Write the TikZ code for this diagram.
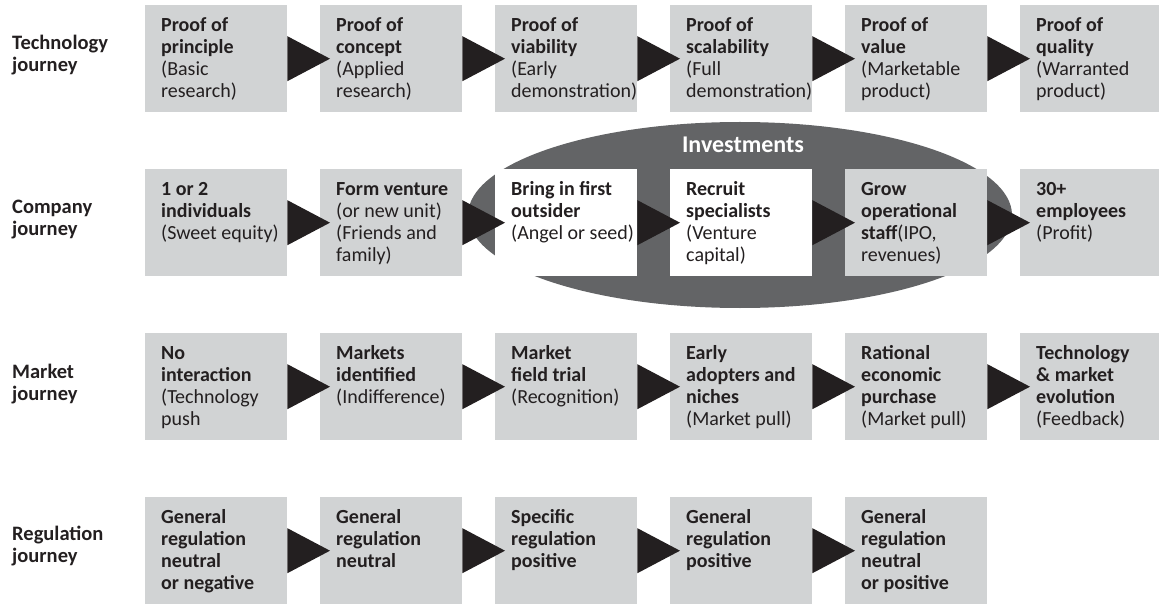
\documentclass[tikz,border=0pt]{standalone}
\usepackage{fontspec}
\setmainfont{Carlito}
\usetikzlibrary{calc,shapes.geometric}
\definecolor{boxgray}{HTML}{D1D3D4}
\definecolor{ellgray}{HTML}{636466}
\definecolor{ink}{HTML}{231F20}
\newcommand\bxt[1]{\parbox[c][107pt][t]{142pt}{\raggedright\leftskip=16pt\relax\fontsize{20}{22}\selectfont\rule{0pt}{26pt}#1}}
\newcommand\rlab[1]{\parbox[t]{130pt}{\raggedright\fontsize{20.5}{22}\selectfont\bfseries #1}}
\newcommand\tri[2]{\fill[ink] ($(#1.east)+(0,-22.5)$) -- ($(#2.west)+(10,0)$) -- ($(#1.east)+(0,22.5)$) -- cycle;}
\begin{document}
\begin{tikzpicture}[x=1pt,y=-1pt,
  stage/.style={fill=boxgray,inner sep=0pt,anchor=north west,text=ink},
  wstage/.style={stage,fill=white},
  rowlab/.style={anchor=base west,inner sep=0pt,text=ink}]
\useasboundingbox (0,0) rectangle (1159,604);
% investments ellipse
\node[ellipse,fill=ellgray,inner sep=0pt,minimum width=544pt,minimum height=186pt] (inv) at (740,215) {};
\node[text=white,font=\fontsize{24}{26}\selectfont\bfseries,anchor=base,inner sep=0pt] (invlab) at (743,153) {Investments};
% row labels
\node[rowlab] (lt) at (12,50) {\rlab{Technology\\journey}};
\node[rowlab] (lc) at (12,214) {\rlab{Company\\journey}};
\node[rowlab] (lm) at (12,378) {\rlab{Market\\journey}};
\node[rowlab] (lr) at (12,540) {\rlab{Regulation\\journey}};
% technology journey
\node[stage] (t1) at (145,5) {\bxt{\textbf{Proof of\\principle}\\(Basic\\research)}};
\node[stage] (t2) at (320,5) {\bxt{\textbf{Proof of\\concept}\\(Applied\\research)}};
\node[stage] (t3) at (495,5) {\bxt{\textbf{Proof of\\viability}\\(Early\\demonstration)}};
\node[stage] (t4) at (670,5) {\bxt{\textbf{Proof of\\scalability}\\(Full\\demonstration)}};
\node[stage] (t5) at (845,5) {\bxt{\textbf{Proof of\\value}\\(Marketable\\product)}};
\node[stage] (t6) at (1020,5) {\bxt{\textbf{Proof of\\quality}\\(Warranted\\product)}};
% company journey
\node[stage] (c1) at (145,169) {\bxt{\textbf{1 or 2\\individuals}\\(Sweet equity)}};
\node[stage] (c2) at (320,169) {\bxt{\textbf{Form venture}\\(or new unit)\\(Friends and\\family)}};
\node[wstage] (c3) at (495,169) {\bxt{\textbf{Bring in first\\outsider}\\(Angel or seed)}};
\node[wstage] (c4) at (670,169) {\bxt{\textbf{Recruit\\specialists}\\(Venture\\capital)}};
\node[stage] (c5) at (845,169) {\bxt{\textbf{Grow\\operational\\staff}(IPO,\\revenues)}};
\node[stage] (c6) at (1020,169) {\bxt{\textbf{30+\\employees}\\(Profit)}};
% market journey
\node[stage] (m1) at (145,333) {\bxt{\textbf{No\\interaction}\\(Technology\\push}};
\node[stage] (m2) at (320,333) {\bxt{\textbf{Markets\\identified}\\(Indifference)}};
\node[stage] (m3) at (495,333) {\bxt{\textbf{Market\\field trial}\\(Recognition)}};
\node[stage] (m4) at (670,333) {\bxt{\textbf{Early\\adopters and\\niches}\\(Market pull)}};
\node[stage] (m5) at (845,333) {\bxt{\textbf{Rational\\economic\\purchase}\\(Market pull)}};
\node[stage] (m6) at (1020,333) {\bxt{\textbf{Technology\\\& market\\evolution}\\(Feedback)}};
% regulation journey
\node[stage] (r1) at (145,497) {\bxt{\textbf{General\\regulation\\neutral\\or negative}}};
\node[stage] (r2) at (320,497) {\bxt{\textbf{General\\regulation\\neutral}}};
\node[stage] (r3) at (495,497) {\bxt{\textbf{Specific\\regulation\\positive}}};
\node[stage] (r4) at (670,497) {\bxt{\textbf{General\\regulation\\positive}}};
\node[stage] (r5) at (845,497) {\bxt{\textbf{General\\regulation\\neutral\\or positive}}};
% arrows
\tri{t1}{t2}\tri{t2}{t3}\tri{t3}{t4}\tri{t4}{t5}\tri{t5}{t6}
\tri{c1}{c2}\tri{c2}{c3}\tri{c3}{c4}\tri{c4}{c5}\tri{c5}{c6}
\tri{m1}{m2}\tri{m2}{m3}\tri{m3}{m4}\tri{m4}{m5}\tri{m5}{m6}
\tri{r1}{r2}\tri{r2}{r3}\tri{r3}{r4}\tri{r4}{r5}
\end{tikzpicture}
\end{document}
